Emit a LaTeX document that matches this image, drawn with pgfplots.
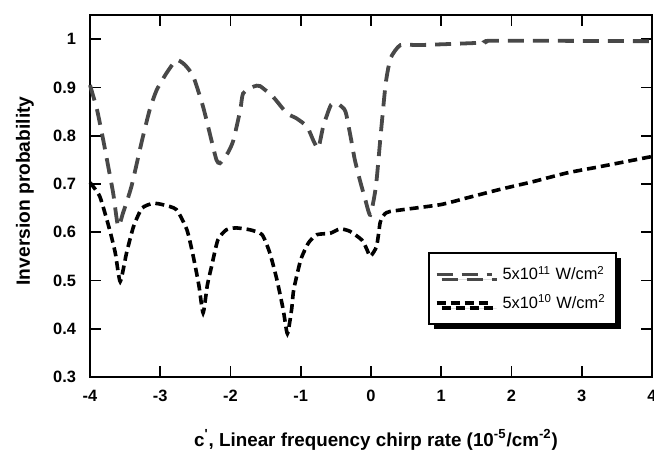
\documentclass[border=0pt]{standalone}
\usepackage{fontspec}
\setmainfont{Liberation Sans}
\usepackage{pgfplots}
\pgfplotsset{compat=1.18}
\usetikzlibrary{shadows}
\definecolor{upgray}{RGB}{72,72,72}

\begin{document}
\begin{tikzpicture}
\begin{axis}[
  at={(0,0)}, anchor=south west,
  scale only axis,
  width=281pt, height=181pt,
  xmin=-4, xmax=4,
  ymin=0.3, ymax=1.0503,
  xtick={-4,-3,-2,-1,0,1,2,3,4},
  xticklabels={-4,-3,-2,-1,0,1,2,3,4},
  ytick={0.3,0.4,0.5,0.6,0.7,0.8,0.9,1},
  yticklabels={0.3,0.4,0.5,0.6,0.7,0.8,0.9,1},
  tick align=inside,
  major tick length=5.5pt,
  tick style={black, line width=0.9pt},
  axis line style={black, line width=1pt},
  xtick pos=both, ytick pos=both,
  ticklabel style={font=\fontsize{8.2}{9.5}\selectfont\bfseries},
  yticklabel style={xshift=-3.5pt},
  xticklabel style={yshift=-3pt},
  every axis y label/.style={at={(axis description cs:-0.1157,0.514)},
    rotate=90, anchor=center, font=\fontsize{9.6}{11}\selectfont\bfseries},
  every axis x label/.style={at={(axis description cs:0.509,-0.174)},
    anchor=center, font=\fontsize{9.4}{11}\selectfont\bfseries},
  ylabel={Inversion probability},
  xlabel={c\textsuperscript{\textquotesingle}, Linear frequency chirp rate (10\textsuperscript{-5}/cm\textsuperscript{-2})},
  legend style={at={(axis description cs:0.601,0.345)}, anchor=north west,
    draw=black, line width=1pt, fill=white,
    drop shadow={shadow xshift=2.5pt, shadow yshift=-2.5pt, fill=black, opacity=1},
    font=\fontsize{8.2}{9.5}\selectfont,
    inner xsep=3pt, inner ysep=4.5pt, row sep=2pt},
  legend cell align=left,
  legend image code/.code={\draw[#1] (0pt,0pt) -- (27.5pt,0pt); \path (30pt,0pt);},
  clip=false,
]
\addplot[upgray, line width=1.9pt, dash pattern=on 8pt off 4.5pt, smooth, tension=0.35]
  coordinates {
  (-4.00,0.905) (-3.90,0.854) (-3.81,0.790) (-3.74,0.736) (-3.67,0.681)
  (-3.60,0.612) (-3.53,0.640) (-3.41,0.695) (-3.26,0.790) (-3.15,0.854)
  (-3.05,0.895) (-2.91,0.930) (-2.77,0.957) (-2.65,0.947) (-2.53,0.923)
  (-2.39,0.860) (-2.27,0.790) (-2.20,0.750) (-2.15,0.743) (-2.04,0.764)
  (-1.96,0.790) (-1.86,0.854) (-1.82,0.888) (-1.67,0.902) (-1.58,0.903)
  (-1.39,0.880) (-1.20,0.847) (-1.06,0.836) (-0.91,0.819) (-0.82,0.790)
  (-0.75,0.774) (-0.68,0.819) (-0.57,0.864) (-0.47,0.866) (-0.38,0.855)
  (-0.35,0.843) (-0.28,0.790) (-0.23,0.750) (-0.16,0.709) (-0.08,0.667)
  (-0.01,0.636) (0.07,0.695) (0.14,0.805) (0.21,0.909) (0.28,0.961)
  (0.42,0.988) (0.70,0.988) (1.60,0.993) (1.74,0.997) (4.00,0.996)
  };
\addlegendentry{5x10\textsuperscript{11} W/cm\textsuperscript{2}}
\addplot[black, line width=1.8pt, dash pattern=on 4.5pt off 2.5pt, smooth, tension=0.35]
  coordinates {
  (-4.00,0.703) (-3.86,0.674) (-3.72,0.605) (-3.64,0.557) (-3.57,0.498)
  (-3.48,0.557) (-3.38,0.612) (-3.26,0.650) (-3.10,0.660) (-2.96,0.657)
  (-2.77,0.647) (-2.62,0.605) (-2.53,0.550) (-2.45,0.490) (-2.39,0.433)
  (-2.33,0.490) (-2.27,0.529) (-2.18,0.584) (-2.06,0.605) (-1.92,0.609)
  (-1.72,0.605) (-1.55,0.595) (-1.44,0.557) (-1.34,0.502) (-1.25,0.440)
  (-1.19,0.390) (-1.13,0.440) (-1.10,0.481) (-1.00,0.543) (-0.89,0.578)
  (-0.77,0.595) (-0.58,0.598) (-0.44,0.607) (-0.30,0.602) (-0.13,0.584)
  (-0.06,0.565) (-0.01,0.550) (0.08,0.571) (0.13,0.620) (0.17,0.633)
  (0.27,0.643) (0.98,0.657) (1.36,0.671) (1.84,0.689) (2.31,0.705)
  (2.79,0.723) (3.26,0.736) (4.00,0.757)
  };
\addlegendentry{5x10\textsuperscript{10} W/cm\textsuperscript{2}}
\end{axis}
\pgfresetboundingbox
\path[use as bounding box] (-45pt,-37pt) rectangle (282pt,188.5pt);
\end{tikzpicture}
\end{document}
